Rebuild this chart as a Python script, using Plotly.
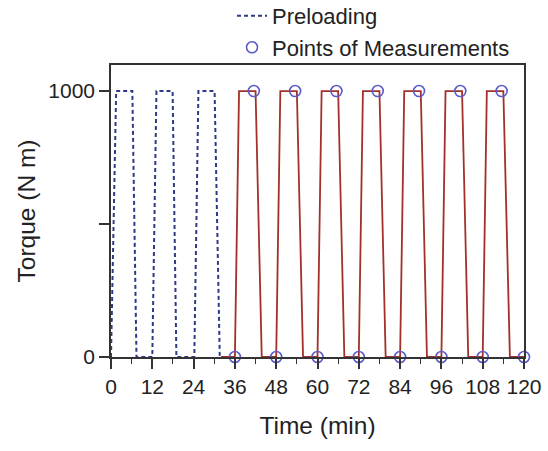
import plotly.graph_objects as go

# Preloading cycles (time in min, torque in N m)
pre_t = [0, 1.5, 6.2, 7.4, 12, 13.2, 17.9, 19.0, 24.2, 25.4, 30.1, 31.6]
pre_y = [0, 1000, 1000, 0, 0, 1000, 1000, 0, 0, 1000, 1000, 0]

# Loading cycles
load_t = [32, 36, 37.2, 42.0, 43.8,
          48, 49.2, 54.0, 55.8,
          60, 61.2, 66.0, 67.8,
          72, 73.2, 78.0, 79.8,
          84, 85.2, 90.0, 91.8,
          96, 97.2, 102.0, 103.8,
          108, 109.2, 114.0, 115.9, 120]
load_y = [0, 0, 1000, 1000, 0,
          0, 1000, 1000, 0,
          0, 1000, 1000, 0,
          0, 1000, 1000, 0,
          0, 1000, 1000, 0,
          0, 1000, 1000, 0,
          0, 1000, 1000, 0, 0]

# Points of measurements
meas_t = [36, 41.5, 48, 53.5, 60, 65.5, 72, 77.5, 84, 89.5, 96, 101.5, 108, 113.5, 120]
meas_y = [0, 1000, 0, 1000, 0, 1000, 0, 1000, 0, 1000, 0, 1000, 0, 1000, 0]

x_ticks = [0, 12, 24, 36, 48, 60, 72, 84, 96, 108, 120]
y_ticks = [0, 500, 1000]
y_tick_text = ["0", "", "1000"]

fig = go.Figure()
fig.add_trace(go.Scatter(x=pre_t, y=pre_y, mode="lines", name="Preloading",
                         line=dict(color="#2e3a87", width=2, dash="4px,3px")))
fig.add_trace(go.Scatter(x=load_t, y=load_y, mode="lines", name="Loading",
                         showlegend=False,
                         line=dict(color="#a3302b", width=1.8)))
fig.add_trace(go.Scatter(x=meas_t, y=meas_y, mode="markers", name="Points of Measurements",
                         cliponaxis=False,
                         marker=dict(symbol="circle-open", size=11,
                                     color="#5b5bc8", line=dict(width=1.6, color="#5b5bc8"))))

axis_common = dict(showline=True, linecolor="#333333", linewidth=1.6, mirror=True,
                   showgrid=False, zeroline=False, ticks="outside",
                   tickcolor="#333333", tickwidth=1.6, ticklen=10,
                   tickfont=dict(family="Liberation Sans, Arial", size=21, color="#222222"))

fig.update_layout(
    width=548, height=451,
    margin=dict(l=111, r=24, t=65, b=94, autoexpand=False),
    paper_bgcolor="white", plot_bgcolor="white",
    font=dict(family="Liberation Sans, Arial", color="#222222"),
    xaxis=dict(range=[0, 120], tickvals=x_ticks,
               title=dict(text="Time (min)", font=dict(size=24.5), standoff=20),
               minor=dict(dtick=6, tick0=0, ticks="outside", ticklen=5,
                          tickcolor="#333333", tickwidth=1.4),
               **axis_common),
    yaxis=dict(range=[0, 1098], tickvals=y_ticks, ticktext=y_tick_text,
               title=dict(text="Torque (N m)", font=dict(size=24.5), standoff=6),
               **axis_common),
    legend=dict(x=0.293, y=1.24, xanchor="left", yanchor="top",
                font=dict(size=22, color="#222222"), bgcolor="rgba(0,0,0,0)",
                tracegroupgap=0),
    showlegend=True,
)

fig.write_html("out.html")
